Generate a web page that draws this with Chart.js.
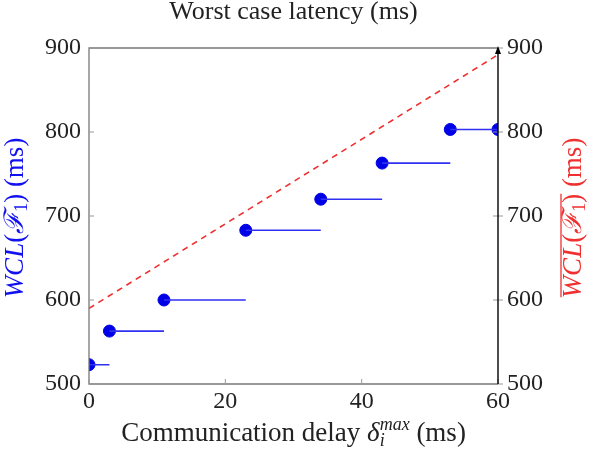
<!DOCTYPE html>
<html>
<head>
<meta charset="utf-8">
<script src="https://cdn.jsdelivr.net/npm/chart.js@4"></script>
<style>
  html, body { margin: 0; padding: 0; background: #fff; }
  #wrap { width: 594px; height: 454px; }
</style>
</head>
<body>
<div id="wrap"><canvas id="wclChart" width="594" height="454"></canvas></div>
<script>
// communication delay (ms) and worst case latency of F1 (ms)
const delays = [0, 3, 11, 23, 34, 43, 53, 60];
const wcl = [523, 563, 600, 683, 720, 763, 803, 803];
// upper bound (red dashed)
const boundX = [0, 60];
const boundY = [590, 892];
const xTicks = [0, 20, 40, 60];
const yTicks = [500, 600, 700, 800, 900];

const SERIF = "'Liberation Serif', 'DejaVu Serif', serif";
const BLUE = "#1010f0";
const RED = "#f03030";
const LBL = 27;

// horizontal steps: each value held until the next delay
const steps = [];
for (let i = 0; i < delays.length - 1; i++) {
  steps.push({ x: delays[i], y: wcl[i] });
  steps.push({ x: delays[i + 1], y: wcl[i] });
  steps.push({ x: delays[i + 1], y: null });
}

function drawParts(ctx, parts, cx, cy) {
  let total = 0;
  parts.forEach((p) => { ctx.font = p.font; p.w = ctx.measureText(p.t).width; });
  parts.forEach((p) => { if (!p.stack) total += p.w; });
  let x = cx - total / 2;
  const spans = {};
  parts.forEach((p) => {
    ctx.font = p.font;
    ctx.fillStyle = p.color;
    ctx.fillText(p.t, x, cy + (p.dy || 0));
    if (p.tag) {
      spans[p.tag] = spans[p.tag] || [x, x];
      spans[p.tag][1] = x + p.w;
    }
    if (!p.stack) x += p.w;
  });
  return spans;
}

const textPlugin = {
  id: "texts",
  afterDraw(chart) {
    const { ctx, chartArea: a, scales } = chart;
    ctx.save();

    // frame
    ctx.lineWidth = 1.3;
    ctx.strokeStyle = "#777";
    ctx.beginPath();
    ctx.moveTo(a.right, a.top); ctx.lineTo(a.left, a.top);
    ctx.lineTo(a.left, a.bottom); ctx.lineTo(a.right, a.bottom);
    ctx.stroke();

    // inward ticks
    ctx.lineWidth = 1;
    ctx.strokeStyle = "#999";
    ctx.beginPath();
    xTicks.forEach((v) => {
      const px = scales.x.getPixelForValue(v);
      ctx.moveTo(px, a.bottom); ctx.lineTo(px, a.bottom - 5);
    });
    yTicks.forEach((v) => {
      const py = scales.y.getPixelForValue(v);
      ctx.moveTo(a.left, py); ctx.lineTo(a.left + 5, py);
      ctx.moveTo(a.right - 5, py); ctx.lineTo(a.right + 5, py);
    });
    ctx.stroke();

    // right axis with arrow
    ctx.strokeStyle = "#000";
    ctx.lineWidth = 1.4;
    ctx.beginPath();
    ctx.moveTo(a.right, a.bottom); ctx.lineTo(a.right, a.top + 4);
    ctx.stroke();
    ctx.fillStyle = "#000";
    ctx.beginPath();
    ctx.moveTo(a.right, a.top - 2);
    ctx.lineTo(a.right - 3, a.top + 6);
    ctx.lineTo(a.right + 3, a.top + 6);
    ctx.closePath();
    ctx.fill();

    ctx.textBaseline = "middle";
    ctx.textAlign = "left";

    // title
    drawParts(ctx, [{ t: "Worst case latency (ms)", font: "26px " + SERIF, color: "#222" }],
      (a.left + a.right) / 2, 12);

    // x axis title
    const xt = [
      { t: "Communication delay ", font: LBL + "px " + SERIF, color: "#222" },
      { t: "δ", font: "italic " + LBL + "px " + SERIF, color: "#222" },
      { t: "i", font: "italic 18px " + SERIF, color: "#222", dy: 7, stack: true },
      { t: "max", font: "italic 18px " + SERIF, color: "#222", dy: -9 },
      { t: " (ms)", font: LBL + "px " + SERIF, color: "#222" }
    ];
    drawParts(ctx, xt, (a.left + a.right) / 2, 434);

    // y axis titles
    const yParts = (color) => [
      { t: "WCL", font: "italic " + LBL + "px " + SERIF, color, tag: "o" },
      { t: "(", font: LBL + "px " + SERIF, color, tag: "o" },
      { t: "ℱ", font: "italic " + LBL + "px " + SERIF, color, tag: "o" },
      { t: "1", font: "18px " + SERIF, color, dy: 6, tag: "o" },
      { t: ")", font: LBL + "px " + SERIF, color, tag: "o" },
      { t: " (ms)", font: LBL + "px " + SERIF, color }
    ];
    const cy = (a.top + a.bottom) / 2 + 2;

    ctx.save();
    ctx.translate(16, cy);
    ctx.rotate(-Math.PI / 2);
    drawParts(ctx, yParts(BLUE), 0, 0);
    ctx.restore();

    ctx.save();
    ctx.translate(574, cy);
    ctx.rotate(-Math.PI / 2);
    const spans = drawParts(ctx, yParts(RED), 0, 0);
    ctx.strokeStyle = RED;
    ctx.lineWidth = 1.3;
    ctx.beginPath();
    ctx.moveTo(spans.o[0] + 1, -13);
    ctx.lineTo(spans.o[1], -13);
    ctx.stroke();
    ctx.restore();

    ctx.restore();
  }
};

const ctx = document.getElementById("wclChart").getContext("2d");

new Chart(ctx, {
  type: "line",
  data: {
    datasets: [
      {
        label: "bound",
        data: boundX.map((x, i) => ({ x: x, y: boundY[i] })),
        borderColor: RED,
        borderWidth: 1.6,
        borderDash: [6, 5],
        pointRadius: 0,
        yAxisID: "y2"
      },
      {
        label: "steps",
        data: steps,
        borderColor: "#3030f0",
        borderWidth: 1.6,
        pointRadius: 0,
        spanGaps: false
      },
      {
        label: "wcl",
        type: "scatter",
        data: delays.map((x, i) => ({ x: x, y: wcl[i] })),
        backgroundColor: "#0000e6",
        borderColor: "#0000e6",
        pointRadius: 6,
        showLine: false
      }
    ]
  },
  options: {
    responsive: false,
    animation: false,
    layout: { padding: { top: 48, left: 0, right: 0, bottom: 0 } },
    scales: {
      x: {
        type: "linear",
        min: 0,
        max: 60,
        afterFit: (s) => { s.height = 70; },
        afterBuildTicks: (s) => { s.ticks = xTicks.map((v) => ({ value: v })); },
        grid: { display: false, drawTicks: false },
        border: { display: false },
        ticks: { padding: 3, color: "#222", font: { family: SERIF, size: 24 } }
      },
      y: {
        position: "left",
        min: 500,
        max: 900,
        afterFit: (s) => { s.width = 89; },
        afterBuildTicks: (s) => { s.ticks = yTicks.map((v) => ({ value: v })); },
        grid: { display: false, drawTicks: false },
        border: { display: false },
        ticks: { padding: 8, color: "#222", font: { family: SERIF, size: 24 } }
      },
      y2: {
        position: "right",
        min: 500,
        max: 900,
        afterFit: (s) => { s.width = 96; },
        afterBuildTicks: (s) => { s.ticks = yTicks.map((v) => ({ value: v })); },
        grid: { display: false, drawTicks: false },
        border: { display: false },
        ticks: { padding: 9, color: "#222", font: { family: SERIF, size: 24 } }
      }
    },
    plugins: {
      legend: { display: false },
      title: { display: false },
      tooltip: { enabled: false }
    }
  },
  plugins: [textPlugin]
});
</script>
</body>
</html>
